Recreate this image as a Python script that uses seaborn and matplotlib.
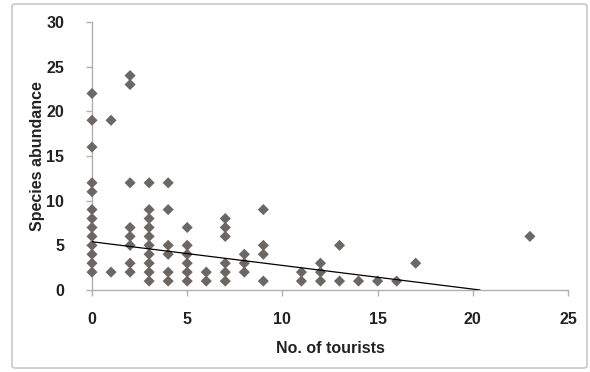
import numpy as np
import pandas as pd
import matplotlib
matplotlib.use("Agg")
import matplotlib.pyplot as plt
from matplotlib.patches import FancyBboxPatch
import seaborn as sns

# Observations: number of tourists and species abundance recorded
tourists = [0]*13 + [1]*2 + [2]*8 + [3]*10 + [4]*6 + [5]*6 + [6]*2 + [7]*6 + [8]*3 + \
           [9]*4 + [11]*2 + [12]*3 + [13]*2 + [14, 15, 16, 17, 23]
abundance = [22, 19, 16, 12, 11, 9, 8, 7, 6, 5, 4, 3, 2,
             19, 2,
             24, 23, 12, 7, 6, 5, 3, 2,
             12, 9, 8, 7, 6, 5, 4, 3, 2, 1,
             12, 9, 5, 4, 2, 1,
             7, 5, 4, 3, 2, 1,
             2, 1,
             8, 7, 6, 3, 2, 1,
             4, 3, 2,
             9, 5, 4, 1,
             2, 1,
             3, 2, 1,
             5, 1,
             1, 1, 1, 3, 6]

# Linear trend line coefficients (intercept and slope)
trend_intercept = 5.4
trend_slope = -0.265

x_ticks = [0, 5, 10, 15, 20, 25]
y_ticks = [0, 5, 10, 15, 20, 25, 30]

df = pd.DataFrame({"tourists": tourists, "abundance": abundance})

sns.set_theme(style="white")
plt.rcParams["font.family"] = ["Liberation Sans", "DejaVu Sans"]

fig = plt.figure(figsize=(5.9, 3.72), dpi=100)
ax = fig.add_axes([92/590, 1 - 290/372, (568-92)/590, (290-22)/372])

# rounded frame around the chart area
frame = FancyBboxPatch((12/590, 4/372), (587-12)/590, (368-4)/372,
                       boxstyle="round,pad=0,rounding_size=0.006",
                       transform=fig.transFigure, fill=False,
                       edgecolor="#c8c8c8", linewidth=1.2)
fig.patches.append(frame)

sns.scatterplot(data=df, x="tourists", y="abundance", marker="D", s=32,
                color="#6b6765", edgecolor="none", ax=ax, zorder=3, clip_on=False)

# trend line, shown only where it stays above zero
x_end = min(-trend_intercept / trend_slope, 25)
xs = np.array([0, x_end])
sns.lineplot(x=xs, y=trend_intercept + trend_slope * xs, color="black",
             linewidth=0.9, ax=ax, zorder=4)

ax.set_xlim(0, 25)
ax.set_ylim(0, 30)
ax.set_xticks(x_ticks)
ax.set_yticks(y_ticks)
ax.set_xlabel("No. of tourists", fontsize=11.5, fontweight="bold", color="#222222")
ax.set_ylabel("Species abundance", fontsize=11.5, fontweight="bold", color="#222222")
ax.xaxis.set_label_coords(0.5, -0.19)
ax.yaxis.set_label_coords(-0.098, 0.5)
for lab in ax.get_xticklabels() + ax.get_yticklabels():
    lab.set_fontweight("bold")
    lab.set_fontsize(11.5)
    lab.set_color("#222222")

for side in ["top", "right"]:
    ax.spines[side].set_visible(False)
for side in ["left", "bottom"]:
    ax.spines[side].set_color("#b0b0b0")
    ax.spines[side].set_linewidth(1.0)
ax.tick_params(axis="both", which="major", length=4, width=1.0, color="#b0b0b0",
               direction="out", left=True, bottom=True)
ax.tick_params(axis="y", pad=16)
ax.tick_params(axis="x", pad=12)

ax.patch.set_alpha(0)
fig.savefig("out.png", dpi=100)
